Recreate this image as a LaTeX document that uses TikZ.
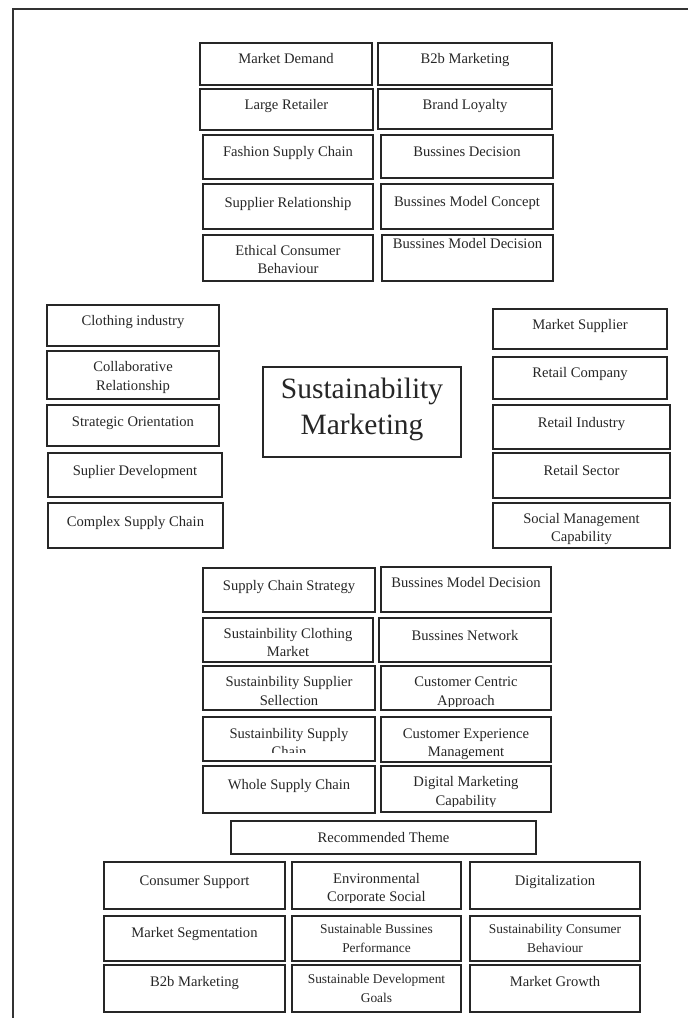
\documentclass[tikz,border=0pt]{standalone}
\usepackage{fontspec}
\setmainfont{Liberation Serif}
\usetikzlibrary{fit}
\tikzset{
  boxst/.style={draw=black!85, line width=1.5pt, inner sep=0pt},
  txt/.style={inner sep=0pt, align=center, text=black!85, font=\fontsize{14.6}{18.3}\selectfont},
  smalltxt/.style={font=\fontsize{13.4}{19}\selectfont},
  bigtxt/.style={font=\fontsize{29.5}{36}\selectfont},
  framest/.style={line width=1.6pt, draw=black!80}
}
% \bx[text opts]{name}{x1}{y1}{x2}{y2}{text top offset}{text}
\newcommand\bx[8][]{%
  \node[boxst, fit={(#3,#4) (#5,#6)}] (#2) {};
  \node[txt,#1,anchor=north] (#2-t) at ({(#3+#5)/2},{#4+#7}) {\strut #8};}
% \bxc: same, with the text cut off below y = #9
\newcommand\bxc[9][]{%
  \node[boxst, fit={(#3,#4) (#5,#6)}] (#2) {};
  \begin{scope}
    \clip (#3,#4) rectangle (#5,#9);
    \node[txt,#1,anchor=north] (#2-t) at ({(#3+#5)/2},{#4+#7}) {\strut #8};
  \end{scope}}
\begin{document}
\begin{tikzpicture}[x=1pt,y=-1pt]
\useasboundingbox (0,0) rectangle (688,1018);
\clip (0,0) rectangle (688,1018);
% outer frame
\coordinate (fbl) at (13,1030);
\coordinate (ftl) at (13,9);
\coordinate (ftr) at (700,9);
\draw[framest] (fbl) -- (ftl) -- (ftr);

% top group
\bx{a1}{200}{43}{372}{85}{7.2}{Market Demand}
\bx{a2}{378}{43}{552}{85}{7.2}{B2b Marketing}
\bx{a3}{200}{89}{373}{130}{7.2}{Large Retailer}
\bx{a4}{378}{89}{552}{129}{7.2}{Brand Loyalty}
\bx{a5}{203}{135}{373}{179}{8.9}{Fashion Supply Chain}
\bx{a6}{381}{135}{553}{178}{8.9}{Bussines Decision}
\bx{a7}{203}{184}{373}{229}{10.2}{Supplier Relationship}
\bx{a8}{381}{184}{553}{229}{9.9}{Bussines Model Concept}
\bx{a9}{203}{235}{373}{281}{7.2}{Ethical Consumer\\Behaviour}
\bx{a10}{382}{235}{553}{281}{0.2}{Bussines Model Decision}

% left group
\bx{l1}{47}{305}{219}{346}{7.2}{Clothing industry}
\bx{l2}{47}{351}{219}{399}{7.9}{Collaborative\\Relationship}
\bx{l3}{47}{405}{219}{446}{8.2}{Strategic Orientation}
\bx{l4}{48}{453}{222}{497}{9.2}{Suplier Development}
\bx{l5}{48}{503}{223}{548}{10.2}{Complex Supply Chain}

% centre
\bx[bigtxt]{c}{263}{367}{461}{457}{5.8}{Sustainability\\Marketing}

% right group
\bx{r1}{493}{309}{667}{349}{7.5}{Market Supplier}
\bx{r2}{493}{357}{667}{399}{7.5}{Retail Company}
\bx{r3}{493}{405}{670}{449}{9.5}{Retail Industry}
\bx{r4}{493}{453}{670}{498}{9.2}{Retail Sector}
\bx{r5}{493}{503}{670}{548}{7.5}{Social Management\\Capability}

% lower middle group
\bx{b1}{203}{568}{375}{612}{9.2}{Supply Chain Strategy}
\bx{b2}{381}{567}{551}{612}{7.5}{Bussines Model Decision}
\bx{b3}{203}{618}{373}{662}{7.5}{Sustainbility Clothing\\Market}
\bx{b4}{379}{618}{551}{662}{9.2}{Bussines Network}
\bx{b5}{203}{666}{375}{710}{7.9}{Sustainbility Supplier\\Sellection}
\bxc{b6}{381}{666}{551}{710}{7.9}{Customer Centric\\Approach}{706.5}
\bxc{b7}{203}{717}{375}{761}{8.5}{Sustainbility Supply\\Chain}{752.5}
\bx{b8}{381}{717}{551}{762}{8.5}{Customer Experience\\Management}
\bx{b9}{203}{766}{375}{813}{10.5}{Whole Supply Chain}
\bxc{b10}{381}{766}{551}{812}{7.9}{Digital Marketing\\Capability}{806}

% recommended theme
\bx{rt}{231}{821}{536}{854}{8.2}{Recommended Theme}
\bx{t1}{104}{862}{285}{909}{10.2}{Consumer Support}
\bxc{t2}{292}{862}{461}{909}{8.4}{Environmental\\Corporate Social}{902.5}
\bx{t3}{470}{862}{640}{909}{10.2}{Digitalization}
\bx{t4}{104}{916}{285}{961}{8.2}{Market Segmentation}
\bx[smalltxt]{t5}{292}{916}{461}{961}{4.1}{Sustainable Bussines\\Performance}
\bx[smalltxt]{t6}{470}{916}{640}{961}{4.1}{Sustainability Consumer\\Behaviour}
\bx{t7}{104}{965}{285}{1012}{8.8}{B2b Marketing}
\bx[smalltxt]{t8}{292}{965}{461}{1012}{4.7}{Sustainable Development\\Goals}
\bx{t9}{470}{965}{640}{1012}{8.8}{Market Growth}
\end{tikzpicture}
\end{document}
